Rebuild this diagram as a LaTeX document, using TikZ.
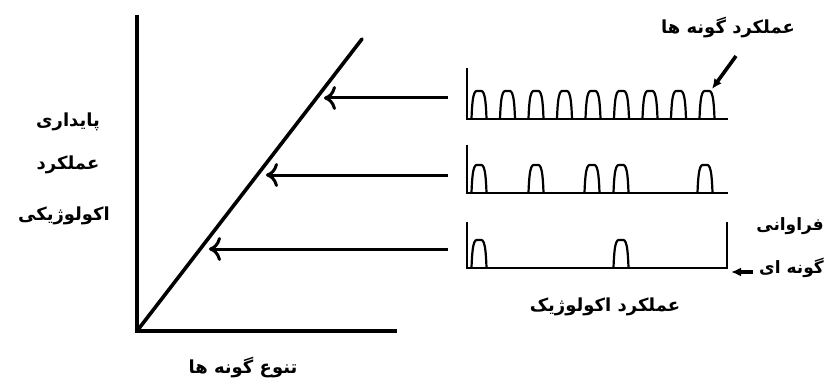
\documentclass[tikz,border=0pt]{standalone}
\usepackage{fontspec}
\usetikzlibrary{arrows.meta}
\TeXXeTstate=1
\newfontfamily\arabicfont[Script=Arabic]{DejaVu Sans}
\begin{document}
\begin{tikzpicture}[x=1pt,y=-1pt,
  axis/.style={line width=3.6pt},
  panel/.style={line width=2.2pt},
  bigarrow/.style={line width=3pt,-{Computer Modern Rightarrow[length=12pt,width=24pt,line width=3pt]}},
  thickarrow/.style={line width=3.6pt,-{Latex[length=10pt,width=9pt]}},
  fa/.style={font=\arabicfont\bfseries\fontsize{18}{20}\selectfont, inner sep=1pt},
  fasm/.style={font=\arabicfont\bfseries\fontsize{17}{19}\selectfont, inner sep=1pt},
  bump/.pic={\draw[panel] (-7.5,0) .. controls (-6.5,-31) and (-3.5,-28) .. (0,-28) .. controls (3.5,-28) and (6.5,-31) .. (7.5,0);}
]
\useasboundingbox (0,0) rectangle (827,385);
% axes
\coordinate (O) at (137,331);
\coordinate (ytop) at (137,15);
\coordinate (xend) at (397,331);
\coordinate (dtop) at (362,39);
\draw[axis] (ytop) -- (O) -- (xend);
\draw[axis, line cap=round] (O) -- (dtop);
% arrows from panels to diagonal
\coordinate (s1) at (448,98);  \coordinate (t1) at (324,98);
\coordinate (s2) at (448,175); \coordinate (t2) at (266,175);
\coordinate (s3) at (448,249); \coordinate (t3) at (209,249);
\draw[bigarrow] (s1) -- (t1);
\draw[bigarrow] (s2) -- (t2);
\draw[bigarrow] (s3) -- (t3);
% panel 1
\draw[panel] (467,68) -- (467,119) -- (728,119);
\foreach \x in {479,507.5,536,564.5,593,621.5,650,678.5,707}
  \pic at (\x,119) {bump};
% panel 2
\draw[panel] (467,145) -- (467,193) -- (728,193);
\foreach \x in {479,536,592,621,705}
  \pic at (\x,193) {bump};
% panel 3
\draw[panel] (467,222) -- (467,268) -- (727,268) -- (727,222);
\foreach \x in {479,621}
  \pic at (\x,268) {bump};
% small arrows
\coordinate (a1s) at (736,56); \coordinate (a1t) at (712,89);
\draw[thickarrow] (a1s) -- (a1t);
\coordinate (a2s) at (753,272); \coordinate (a2t) at (731,272);
\draw[thickarrow] (a2s) -- (a2t);
% texts
\node[fa] (l1) at (68,122) {\beginR پایداری\endR};
\node[fa] (l2) at (68,165) {\beginR عملکرد\endR};
\node[fa] (l3) at (64,216) {\beginR اکولوژیکی\endR};
\node[fa] (top) at (728,28) {\beginR عملکرد گونه ها\endR};
\node[fasm, anchor=east] (fr) at (825,226) {\beginR فراوانی\endR};
\node[fasm, anchor=east] (gn) at (825,268) {\beginR گونه ای\endR};
\node[fa] (eco) at (605,307) {\beginR عملکرد اکولوژیک\endR};
\node[fa] (div) at (243,368) {\beginR تنوع گونه ها\endR};
\end{tikzpicture}
\end{document}
